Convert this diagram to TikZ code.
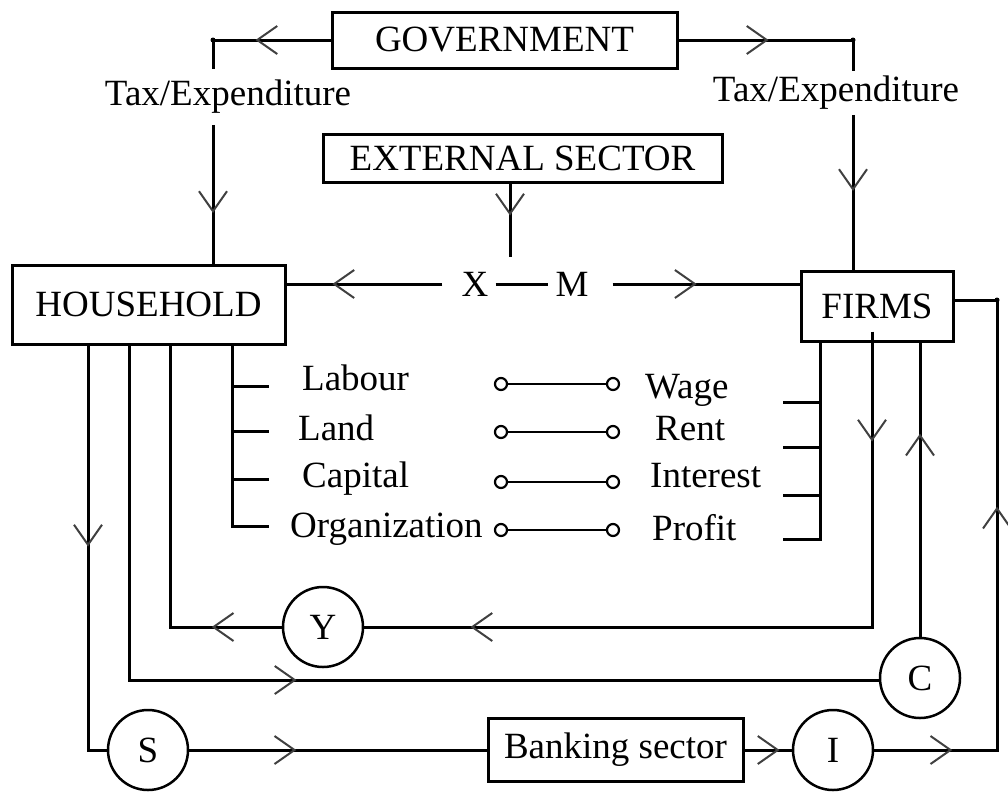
\documentclass[tikz,border=0pt]{standalone}
\usepackage{fontspec}
\setmainfont{Liberation Serif}
\usetikzlibrary{arrows.meta,decorations.markings}

\tikzset{
  chev/.tip={Straight Barb[length=20pt,width=28pt,line width=2pt,color=black!75]},
  flow/.style={line width=3pt},
  mk/.style={postaction={decorate,decoration={markings,mark=at position #1 with {\arrow{chev}}}}},
  txt/.style={font=\fontsize{37}{41}\selectfont},
  box/.style={txt, draw, line width=3pt, inner sep=0pt},
  sector/.style={txt, draw, circle, line width=2.5pt, minimum size=80pt, inner sep=0pt},
  lbl/.style={txt, inner sep=0pt},
  pin/.style={draw, circle, line width=2.2pt, minimum size=12pt, inner sep=0pt, fill=white},
  joint/.style={circle, fill, inner sep=0pt, minimum size=5pt},
}

\begin{document}
\begin{tikzpicture}[x=1pt,y=-1pt]
\useasboundingbox (0,0) rectangle (1008,796);

% sectors
\node[box, minimum width=345pt, minimum height=56pt] (gov) at (504.5,40) {GOVERNMENT};
\node[box, minimum width=399pt, minimum height=48pt] (ext) at (522.5,158) {EXTERNAL SECTOR};
\node[box, minimum width=273pt, minimum height=79pt] (hh) at (148.5,304.5) {HOUSEHOLD};
\node[box, minimum width=152pt, minimum height=70pt] (firms) at (877,306) {FIRMS};
\node[box, minimum width=255pt, minimum height=63pt] (bank) at (615.5,750) {Banking sector};

% income, consumption, saving, investment
\node[sector] (Y) at (323,627) {Y};
\node[sector] (S) at (148,750) {S};
\node[sector] (C) at (920,678) {C};
\node[sector] (I) at (833,750) {I};

% labels
\node[lbl, inner ysep=11pt] (taxL) at (228,97) {Tax/Expenditure};
\node[lbl, inner ysep=5pt] (taxR) at (836,93) {Tax/Expenditure};
\node[lbl, inner xsep=7pt] (X) at (475,284) {X};
\node[lbl, inner xsep=7pt] (M) at (572,284) {M};

\node[lbl, anchor=base west] (lab1) at (302,390) {Labour};
\node[lbl, anchor=base west] (lab2) at (298,440) {Land};
\node[lbl, anchor=base west] (lab3) at (302,487) {Capital};
\node[lbl, anchor=base west] (lab4) at (290,537) {Organization};
\node[lbl, anchor=base west] (pay1) at (645,398) {Wage};
\node[lbl, anchor=base west] (pay2) at (655,440) {Rent};
\node[lbl, anchor=base west] (pay3) at (650,487) {Interest};
\node[lbl, anchor=base west] (pay4) at (652,540) {Profit};

% factor / reward links
\foreach \i/\y in {1/384,2/432,3/482,4/530}{
  \node[pin] (pl\i) at (501,\y) {};
  \node[pin] (pr\i) at (613,\y) {};
  \draw[line width=2.6pt] (pl\i) -- (pr\i);
}

% corner points of the flows
\coordinate (tl) at (213,40);
\coordinate (tr) at (853,40);
\coordinate (xmj) at (510,257);
\coordinate (hb) at (232,526);
\coordinate (fb) at (820,539);
\coordinate (c1) at (88,750);
\coordinate (c2) at (129,680);
\coordinate (c3) at (170,627);
\coordinate (c4) at (872,627);
\coordinate (c5) at (997,750);
\coordinate (c6) at (997,300);

% government flows
\draw[flow, mk=75pt] (gov.west) -- (tl) -- (taxL.north -| tl);
\draw[flow, mk=88pt] (taxL.south -| tl) -- (hh.north -| tl);
\draw[flow, mk=90pt] (gov.east) -- (tr) -- (taxR.north -| tr);
\draw[flow, mk=76pt] (taxR.south -| tr) -- (firms.north -| tr);
\node[joint] at (tl) {};
\node[joint] at (tr) {};

% external sector: exports and imports
\draw[flow, mk=32pt] (ext.south -| xmj) -- (xmj);
\draw[flow] (X.east) -- (M.west);
\draw[flow, mk=110pt] ([xshift=-12pt]X.west) -- (X.west -| hh.east);
\draw[flow, mk=84pt] ([xshift=17pt]M.east) -- (M.east -| firms.west);

% factor brackets
\draw[flow] (hh.south -| hb) -- (hb) -- ++(37,0);
\foreach \y in {386,431,479} \draw[flow] (232,\y) -- ++(37,0);
\draw[flow] (firms.south -| fb) -- (fb) -- ++(-37,0);
\foreach \y in {402,447,495} \draw[flow] (820,\y) -- ++(-37,0);

% income
\draw[flow, mk=110pt, mk=697pt] ([yshift=11pt]firms.south -| c4) -- (c4) -- (Y.east);
\draw[flow, mk=70pt] (Y.west) -- (c3) -- (hh.south -| c3);

% consumption
\draw[flow, mk=502pt] (hh.south -| c2) -- (c2) -- (c2 -| C.west);
\draw[flow, mk=203pt] (C.north) -- (firms.south -| C.north);

% saving and investment
\draw[flow, mk=201pt] (hh.south -| c1) -- (c1) -- (S.west);
\draw[flow, mk=107pt] (S.east) -- (bank.west);
\draw[flow, mk=35pt] (bank.east) -- (I.west);
\draw[flow, mk=78pt, mk=366pt] (I.east) -- (c5) -- (c6) -- (firms.east |- c6);
\node[joint] at (c6) {};
\end{tikzpicture}
\end{document}
